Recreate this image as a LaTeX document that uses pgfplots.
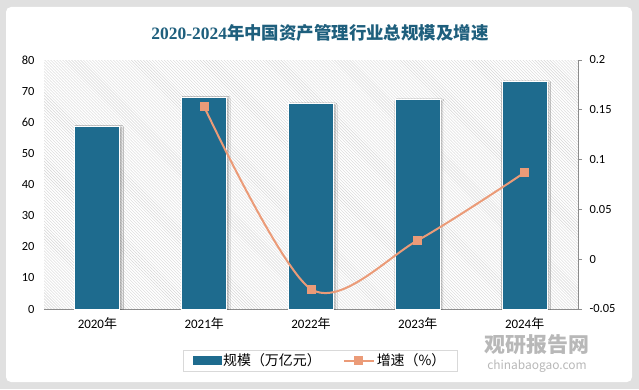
\documentclass[border=0pt]{standalone}
\usepackage{fontspec}
\setmainfont{Carlito}
\newfontfamily\cjk{Noto Sans CJK SC}
\newfontfamily\titleserif{Liberation Serif}
\usepackage{pgfplots}
\pgfplotsset{compat=1.18}
\usetikzlibrary{patterns,shadows.blur}
\definecolor{barc}{RGB}{30,107,142}
\definecolor{linec}{RGB}{235,155,120}
\definecolor{titlec}{RGB}{30,95,125}
\definecolor{axc}{RGB}{140,140,140}
\begin{document}
\begin{tikzpicture}[x=1bp,y=1bp]
\fill[black!12] (0,0) rectangle (639,389);
\fill[white, rounded corners=5bp] (6,7) rectangle (632,382);
\node[text=titlec, font=\fontsize{17.5}{19}\selectfont] at (320,356) {{\titleserif\bfseries 2020-2024}{\cjk\bfseries 年中国资产管理行业总规模及增速}};
\node[text=black!28, font=\fontsize{21}{23}\selectfont] at (537,44) {\cjk\bfseries 观研报告网};
\node[text=black!28, font=\fontsize{12}{14}\selectfont] at (537,23) {\cjk chinabaogao.com};
\begin{axis}[
  at={(44bp,80bp)}, anchor=south west,
  width=534bp, height=249bp, scale only axis,
  xmin=-0.5, xmax=4.5, ymin=0, ymax=80,
  ytick={0,10,...,80},
  xtick={0,1,2,3,4},
  xticklabels={2020{\cjk 年},2021{\cjk 年},2022{\cjk 年},2023{\cjk 年},2024{\cjk 年}},
  axis y line*=left, axis x line*=bottom,
  y axis line style={draw=none},
  x axis line style={draw=axc, line width=1bp},
  major tick length=0,
  tick label style={font=\fontsize{12.5}{14}\selectfont},
  xticklabel style={yshift=-5bp, font=\fontsize{13}{15}\selectfont},
  yticklabel style={xshift=-6bp},
  /pgf/number format/assume math mode=true,
  axis background/.style={pattern=north west lines, pattern color=black!16},
  ybar, bar width=45bp,
]
\addplot[fill=barc, draw=white, line width=1bp,
  blur shadow={shadow xshift=1.5bp, shadow yshift=-1bp, shadow blur radius=2bp, shadow opacity=35}]
  coordinates {(0,58.7) (1,68.0) (2,65.9) (3,67.2) (4,73.0)};
\end{axis}
\begin{axis}[
  at={(44bp,80bp)}, anchor=south west,
  width=534bp, height=249bp, scale only axis,
  xmin=-0.5, xmax=4.5, ymin=-0.05, ymax=0.2,
  axis y line*=right, axis x line=none,
  ytick={-0.05,0,0.05,0.1,0.15,0.2},
  yticklabels={-0.05,0,0.05,0.1,0.15,0.2},
  y axis line style={draw=axc, line width=0.8bp},
  ytick style={draw=axc, line width=0.8bp},
  major tick length=4bp, tick align=outside,
  tick label style={font=\fontsize{12.5}{14}\selectfont},
  yticklabel style={xshift=4bp},
  legend columns=2,
  legend style={at={(0.517,-0.207)}, anchor=center, draw=black!15,
    font=\fontsize{14}{16}\selectfont, inner xsep=10bp, inner ysep=1.5bp,
    /tikz/every even column/.append style={column sep=20bp}},
]
\addlegendimage{legend image code/.code={\fill[barc] (0bp,-4bp) rectangle (28bp,4bp);}}
\addlegendentry{{\cjk 规模（万亿元）}}
\addplot[linec, line width=2bp, smooth, mark=square*, mark size=3.5bp,
  mark options={fill=linec, draw=linec},
  legend image code/.code={\draw[mark repeat=2,mark phase=2] plot coordinates {(0bp,0bp) (15bp,0bp) (30bp,0bp)};}]
  coordinates {(1,0.153) (2,-0.030) (3,0.019) (4,0.087)};
\addlegendentry{{\cjk 增速（\%）}}
\end{axis}
\end{tikzpicture}
\end{document}
